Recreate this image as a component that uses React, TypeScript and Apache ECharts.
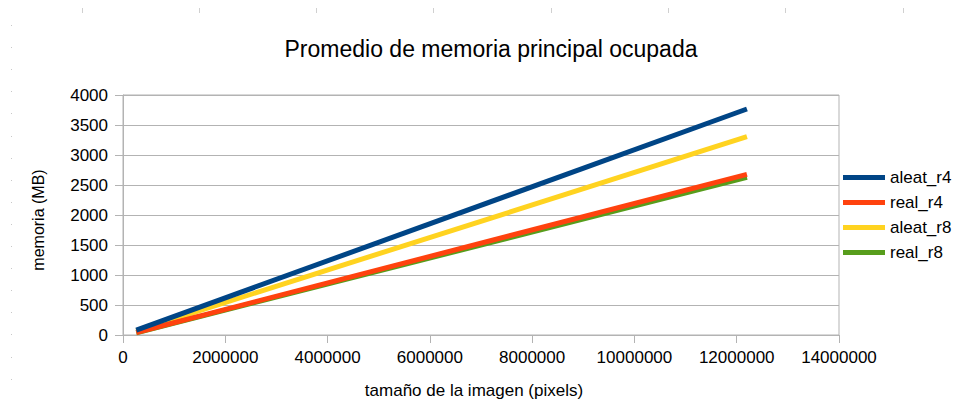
import React, { useEffect, useRef } from "react";
import * as echarts from "echarts";

const seriesNames = ["aleat_r4", "real_r4", "aleat_r8", "real_r8"];
const seriesColors = ["#004586", "#ff420e", "#ffd320", "#579d1c"];
const imageSizes = [260000, 12200000];
const aleatR4 = [82, 3767];
const realR4 = [42, 2678];
const aleatR8 = [70, 3305];
const realR8 = [38, 2628];
const xTicks = { min: 0, max: 14000000, interval: 2000000 };
const yTicks = { min: 0, max: 4000, interval: 500 };
const titleText = "Promedio de memoria principal ocupada";
const xName = "tamaño de la imagen (pixels)";
const yName = "memoria (MB)";

const FONT = "'Liberation Sans', Arial, sans-serif";

export default function App() {
  const ref = useRef<HTMLDivElement>(null);
  useEffect(() => {
    if (!ref.current) return;
    const chart = echarts.init(ref.current, undefined, { renderer: "svg" });
    const values = [aleatR4, realR4, aleatR8, realR8];
    const zs = [5, 4, 2, 3];
    const graphics: any[] = [];
    [82, 199, 316, 433, 551, 668, 785, 903].forEach((x) => {
      graphics.push({ type: "rect", shape: { x, y: 8, width: 1, height: 5 }, style: { fill: "#d0d0d0" }, silent: true });
    });
    for (let y = 25; y <= 380; y += 22.1) {
      graphics.push({ type: "rect", shape: { x: 11, y: Math.round(y), width: 1, height: 1 }, style: { fill: "#c8c8c8" }, silent: true });
    }
    graphics.push({
      type: "text", x: 491, y: 49,
      style: { text: titleText, fontFamily: FONT, fontSize: 23, fill: "#000", textAlign: "center", textVerticalAlign: "middle" },
    });
    graphics.push({
      type: "text", x: 474, y: 390,
      style: { text: xName, fontFamily: FONT, fontSize: 17, fill: "#000", textAlign: "center", textVerticalAlign: "middle" },
    });
    graphics.push({
      type: "text", x: 38, y: 220, rotation: Math.PI / 2,
      style: { text: yName, fontFamily: FONT, fontSize: 16, fill: "#000", textAlign: "center", textVerticalAlign: "middle" },
    });
    chart.setOption({
      animation: false,
      backgroundColor: "#ffffff",
      textStyle: { fontFamily: FONT },
      grid: { left: 123, right: 118, top: 95, bottom: 70, show: true, borderColor: "#b3b3b3", borderWidth: 1 },
      legend: {
        orient: "vertical",
        left: 843,
        top: 169,
        padding: 0,
        itemWidth: 42,
        itemHeight: 5,
        itemGap: 8,
        icon: "rect",
        data: seriesNames,
        textStyle: { fontFamily: FONT, fontSize: 17, color: "#000", overflow: "none" },
      },
      xAxis: {
        type: "value",
        min: xTicks.min,
        max: xTicks.max,
        interval: xTicks.interval,
        axisLine: { show: true, lineStyle: { color: "#b3b3b3" } },
        axisTick: { show: true, length: 8, lineStyle: { color: "#b3b3b3" } },
        splitLine: { show: false },
        axisLabel: { fontFamily: FONT, fontSize: 17, color: "#000", margin: 14, formatter: (v: number) => String(v) },
      },
      yAxis: {
        type: "value",
        min: yTicks.min,
        max: yTicks.max,
        interval: yTicks.interval,
        axisLine: { show: true, lineStyle: { color: "#b3b3b3" } },
        axisTick: { show: true, length: 8, lineStyle: { color: "#b3b3b3" } },
        splitLine: { show: true, lineStyle: { color: "#b3b3b3" } },
        axisLabel: { fontFamily: FONT, fontSize: 17, color: "#000", margin: 15, formatter: (v: number) => String(v) },
      },
      series: seriesNames.map((name, i) => ({
        name,
        type: "line",
        z: zs[i],
        showSymbol: false,
        symbol: "none",
        color: seriesColors[i],
        lineStyle: { width: 5, color: seriesColors[i], cap: "butt" },
        data: imageSizes.map((x, j) => [x, values[i][j]]),
      })),
      graphic: graphics,
    });
    return () => chart.dispose();
  }, []);
  return <div ref={ref} style={{ position: "fixed", left: 0, top: 0, width: 957, height: 405 }} />;
}
